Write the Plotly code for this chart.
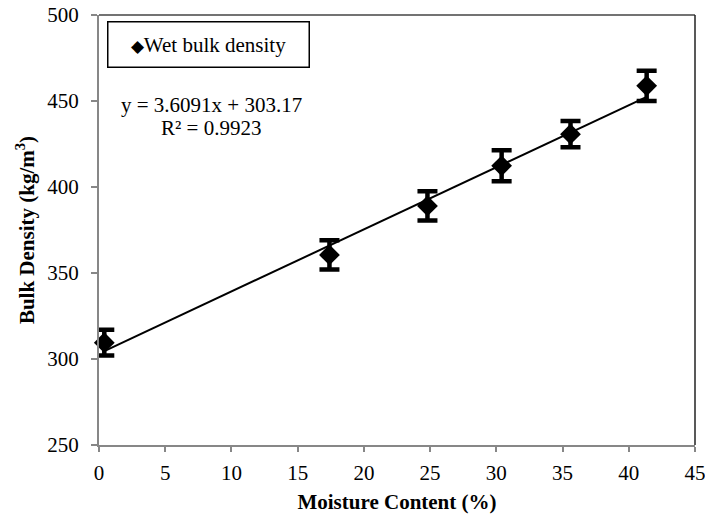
import plotly.graph_objects as go

# Moisture content (%) and wet bulk density (kg/m3) with standard deviations
moisture = [0.4, 17.4, 24.8, 30.4, 35.6, 41.35]
bulk_density = [309.5, 360.5, 389.0, 412.3, 430.7, 458.8]
density_sd = [7.5, 8.5, 8.5, 9.0, 7.6, 8.8]

# Linear fit coefficients
slope = 3.6091
intercept = 303.17
r_squared = 0.9923

x_ticks = [0, 5, 10, 15, 20, 25, 30, 35, 40, 45]
y_ticks = [250, 300, 350, 400, 450, 500]

FONT = "'Liberation Serif', 'Times New Roman', serif"
AXIS_GREY = "#878787"

fit_x = [min(moisture), max(moisture)]
fit_y = [slope * v + intercept for v in fit_x]

fig = go.Figure()

fig.add_trace(go.Scatter(
    x=fit_x, y=fit_y, mode="lines",
    line=dict(color="black", width=2),
    showlegend=False, hoverinfo="skip", cliponaxis=False,
))

fig.add_trace(go.Scatter(
    x=moisture, y=bulk_density, mode="markers",
    name="Wet bulk density",
    marker=dict(symbol="diamond", size=16, color="black"),
    error_y=dict(type="data", array=density_sd, visible=True,
                 color="black", thickness=4.5, width=10),
    showlegend=False, cliponaxis=False,
))

fig.update_layout(
    width=705, height=514,
    margin=dict(l=99, r=10, t=15, b=69, autoexpand=False),
    paper_bgcolor="white", plot_bgcolor="white",
    font=dict(family=FONT, size=21, color="black"),
    xaxis=dict(
        range=[0, 45], tickvals=x_ticks, ticktext=[str(v) for v in x_ticks],
        showgrid=False, zeroline=False, automargin=False,
        showline=True, linecolor=AXIS_GREY, linewidth=2,
        ticks="outside", ticklen=5, tickwidth=2, tickcolor=AXIS_GREY,
        tickfont=dict(family=FONT, size=21), ticklabeloverflow="allow",
        ticklabelstandoff=3,
        title=dict(text="<b>Moisture Content (%)</b>",
                   font=dict(family=FONT, size=21), standoff=12),
    ),
    yaxis=dict(
        range=[250, 500], tickvals=y_ticks, ticktext=[str(v) for v in y_ticks],
        showgrid=False, zeroline=False, automargin=False,
        showline=True, linecolor=AXIS_GREY, linewidth=2,
        ticks="outside", ticklen=6, tickwidth=2, tickcolor=AXIS_GREY,
        tickfont=dict(family=FONT, size=21), ticklabeloverflow="allow",
        ticklabelstandoff=8,
        title=dict(text="<b>Bulk Density (kg/m<sup>3</sup>)</b>",
                   font=dict(family=FONT, size=21), standoff=7),
    ),
    shapes=[
        # plot frame: top and right edges
        dict(type="line", xref="paper", yref="paper", x0=0, x1=1, y0=1, y1=1,
             line=dict(color="#444444", width=1.5)),
        dict(type="line", xref="paper", yref="paper", x0=1, x1=1, y0=0, y1=1,
             line=dict(color="#222222", width=1.5)),
    ],
    annotations=[
        # legend box
        dict(xref="paper", yref="paper", x=(107 - 99) / 596, y=1 - (20.7 - 15) / 430.5,
             xanchor="left", yanchor="top", showarrow=False,
             text="<span style='font-size:17px'>◆</span>Wet bulk density",
             width=198, height=42, borderwidth=1.5, bordercolor="black",
             bgcolor="white", align="center", valign="middle",
             font=dict(family=FONT, size=21)),
        # fit equation
        dict(xref="paper", yref="paper", x=(211 - 99) / 596, y=1 - (105 - 15) / 430.5,
             xanchor="center", yanchor="middle", showarrow=False,
             text=f"y = {slope}x + {intercept}",
             font=dict(family=FONT, size=21)),
        dict(xref="paper", yref="paper", x=(211 - 99) / 596, y=1 - (128 - 15) / 430.5,
             xanchor="center", yanchor="middle", showarrow=False,
             text=f"R² = {r_squared}",
             font=dict(family=FONT, size=21)),
    ],
)

fig.write_html("out.html")
